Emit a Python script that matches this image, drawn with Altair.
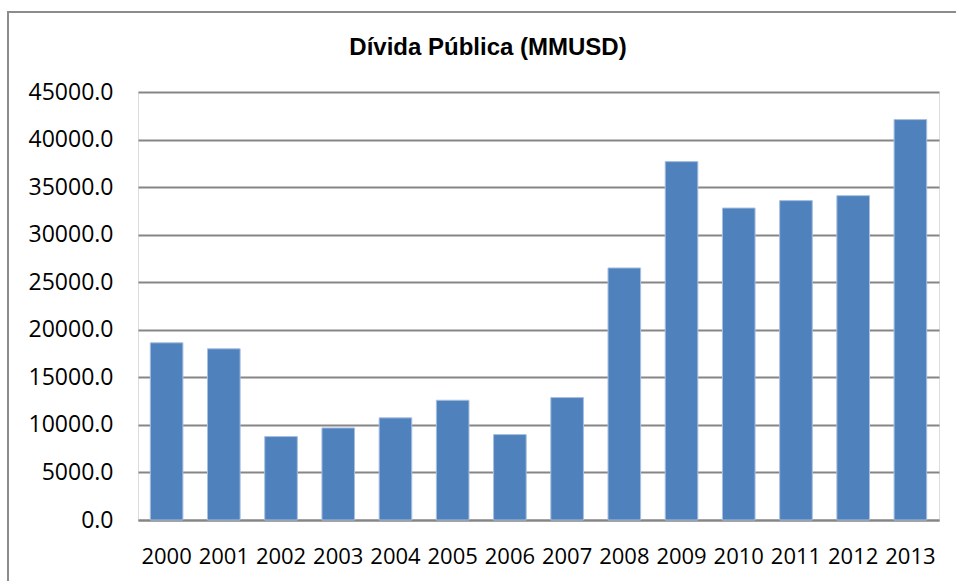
import altair as alt
import pandas as pd

title_text = ["Dívida Pública (MMUSD)"]
years = ["2000", "2001", "2002", "2003", "2004", "2005", "2006",
         "2007", "2008", "2009", "2010", "2011", "2012", "2013"]
divida = [18630, 18000, 8770, 9680, 10740, 12590, 8980,
          12870, 26500, 37680, 32800, 33580, 34100, 42100]
y_ticks = [0, 5000, 10000, 15000, 20000, 25000, 30000, 35000, 40000, 45000]

df = pd.DataFrame({"ano": years, "divida": divida})
df_title = pd.DataFrame({"t": title_text})

FONT = "Open Sans"

bars = alt.Chart(df).mark_bar(
    color="#4F81BD", stroke="#A7BFE0", strokeWidth=1
).encode(
    x=alt.X("ano:N", sort=years, title=None,
            scale=alt.Scale(paddingInner=0.43, paddingOuter=0.215),
            axis=alt.Axis(labelAngle=0, labelFont=FONT, labelFontSize=22,
                          labelColor="black", labelPadding=26, ticks=False,
                          domain=True, domainColor="#868686", domainWidth=2,
                          grid=False)),
    y=alt.Y("divida:Q", title=None,
            scale=alt.Scale(domain=[0, 45000], nice=False),
            axis=alt.Axis(values=y_ticks, format=".1f", labelFont=FONT,
                          labelFontSize=23, labelColor="black", labelPadding=25,
                          ticks=False, domain=False, grid=True,
                          gridColor="#868686", gridWidth=2)),
)

frame = alt.Chart(df_title).mark_rect(
    fillOpacity=0, stroke="#8C8C8C", strokeWidth=2
).encode(
    x=alt.value(-130), x2=alt.value(900),
    y=alt.value(-80), y2=alt.value(600),
)

title = alt.Chart(df_title).mark_text(
    font="Liberation Sans", fontSize=24, fontWeight="bold", color="black",
    align="center", baseline="alphabetic"
).encode(
    text="t:N", x=alt.value(350), y=alt.value(-37),
)

chart = alt.layer(frame, bars, title).properties(
    width=801, height=428,
    autosize=alt.AutoSizeParams(type="none"),
    padding={"left": 138, "top": 92, "right": 17, "bottom": 61},
).configure_view(stroke=None).configure(background="white")

chart.save("out.html", embed_options={"renderer": "svg", "actions": False})
